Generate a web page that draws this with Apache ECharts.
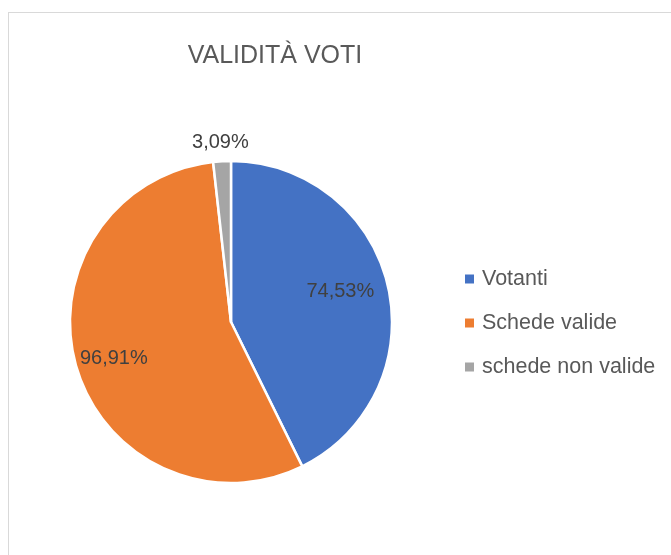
<!DOCTYPE html>
<html>
<head>
<meta charset="utf-8">
<script src="https://cdn.jsdelivr.net/npm/echarts@6/dist/echarts.min.js"></script>
<style>
html,body{margin:0;padding:0;background:#fff;}
#frame{position:absolute;left:8px;top:12px;width:700px;height:600px;border:1px solid #d9d9d9;box-sizing:border-box;}
#chart{position:absolute;left:0;top:0;width:671px;height:555px;}
</style>
</head>
<body>
<div id="frame"></div>
<div id="chart"></div>
<script>
// dati
var categorie = ['Votanti', 'Schede valide', 'schede non valide'];
var valori = [74.53, 96.91, 3.09];
var colori = ['#4472C4', '#ED7D31', '#A5A5A5'];

// spostamento etichette (stile Excel "adatta")
var spostamenti = [[28, -12], [-37, 13], [-6, -96]];

var dati = [];
for (var i = 0; i < categorie.length; i++) {
	dati.push({
		name: categorie[i],
		value: valori[i],
		itemStyle: {color: colori[i]},
		label: {offset: spostamenti[i]}
	});
}

var myChart = echarts.init(document.getElementById('chart'));
var option = {
	animation: false,
	title: {
		text: 'VALIDITÀ VOTI',
		left: 270,
		top: 39,
		textAlign: 'center',
		textStyle: {
			color: '#595959',
			fontSize: 25,
			fontWeight: 'normal',
			fontFamily: '"Liberation Sans", sans-serif'
		}
	},
	legend: {
		orient: 'vertical',
		left: 460,
		top: 263,
		icon: 'rect',
		itemWidth: 9,
		itemHeight: 9,
		itemGap: 22,
		itemStyle: {borderWidth: 0},
		textStyle: {
			color: '#595959',
			fontSize: 21.5,
			fontFamily: '"Liberation Sans", sans-serif',
			padding: [0, 0, 0, 3]
		},
		data: categorie
	},
	series: [{
		type: 'pie',
		center: [231, 322],
		radius: [0, 161],
		startAngle: 90,
		clockwise: true,
		itemStyle: {borderColor: '#fff', borderWidth: 2.5},
		label: {
			show: true,
			position: 'inside',
			color: '#404040',
			fontSize: 20,
			fontFamily: '"Liberation Sans", sans-serif',
			formatter: function (p) {
				return p.value.toFixed(2).replace('.', ',') + '%';
			}
		},
		labelLine: {show: false},
		emphasis: {disabled: true},
		data: dati
	}]
};
myChart.setOption(option);
</script>
</body>
</html>
